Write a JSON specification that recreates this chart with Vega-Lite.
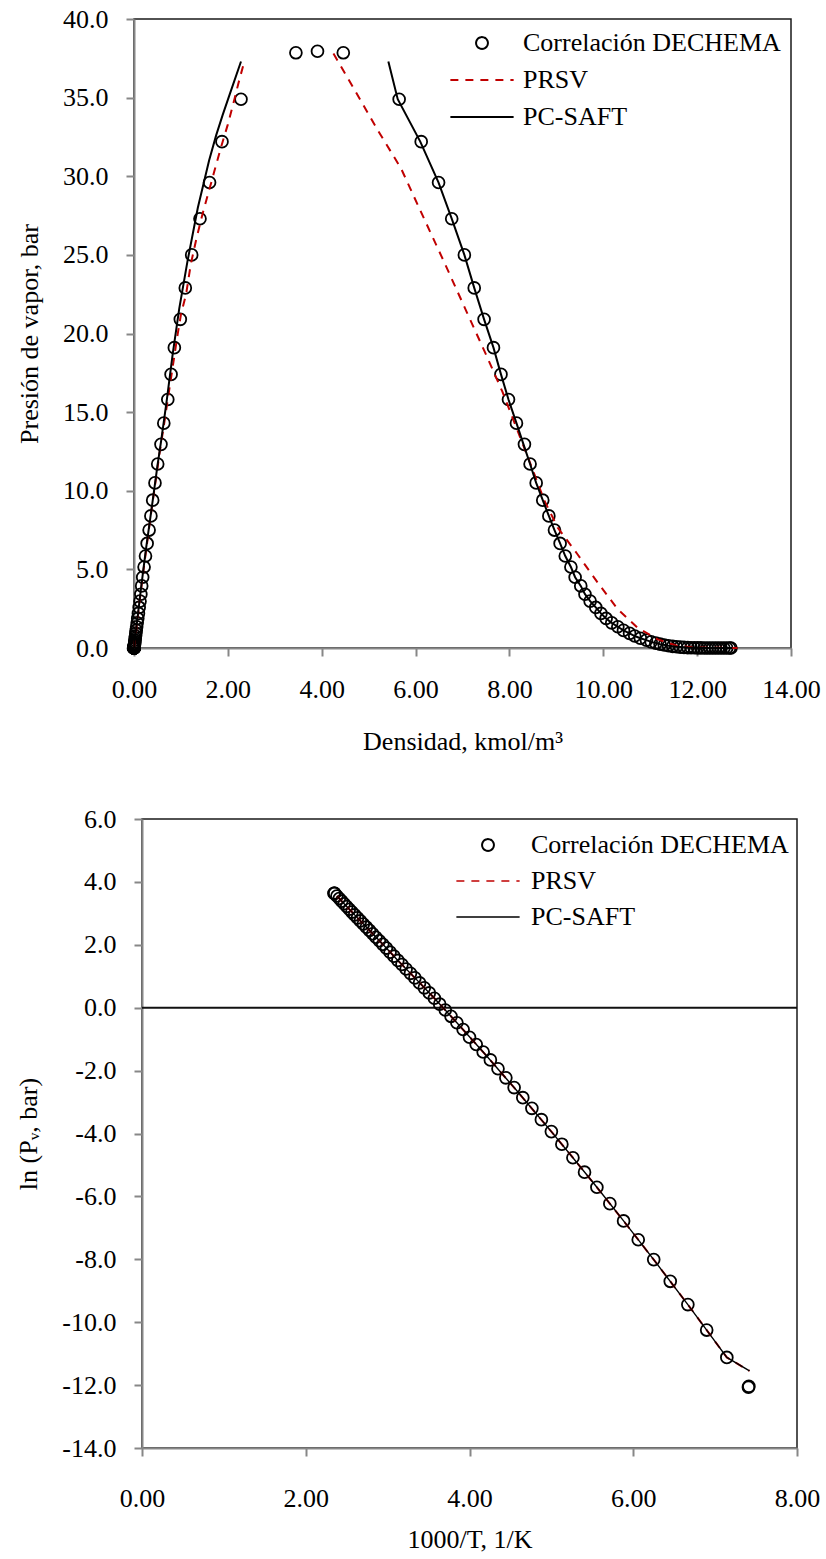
{
"$schema":"https://vega.github.io/schema/vega-lite/v6.json",
"background":"white",
"padding":{"left":8,"top":5,"right":4,"bottom":0},
"config":{
 "font":"Liberation Serif",
 "view":{"stroke":"#1a1a1a","strokeWidth":1.5},
 "axis":{"domainColor":"#878787","domainWidth":2,"tickColor":"#878787","tickWidth":2,"tickSize":8,"labelFont":"Liberation Serif","labelFontSize":26,"labelColor":"black","titleFont":"Liberation Serif","titleFontSize":26,"titleFontWeight":"normal","titleColor":"black","grid":false,"labelPadding":18,"labelFlush":false,"labelOverlap":false},
 "legend":{"labelFont":"Liberation Serif","labelFontSize":26,"labelColor":"black","labelLimit":500}
},
"columns":1,
"align":"none",
"spacing":50,
"resolve":{"scale":{"color":"independent"},"legend":{"color":"independent"}},
"concat":[
{"resolve":{"scale":{"color":"independent"},"legend":{"color":"independent"}},
 "spacing":0,
 "hconcat":[
{"width":1,"height":1,"view":{"stroke":null},"data":{"values":[{"k":1}]},"mark":{"type":"point","opacity":0}},
{
 "width":657,"height":629,
 "data":{"values":[
  {"s":"D","r":3.45,"p":37.85},{"s":"D","r":3.91,"p":37.95},{"s":"D","r":4.46,"p":37.85},
  {"s":"D","r":2.28,"p":34.9},{"s":"D","r":1.875,"p":32.2},{"s":"D","r":1.61,"p":29.6},{"s":"D","r":1.406,"p":27.3},{"s":"D","r":1.229,"p":25.0},{"s":"D","r":1.093,"p":22.9},{"s":"D","r":0.987,"p":20.9},{"s":"D","r":0.86,"p":19.1},{"s":"D","r":0.79,"p":17.4},{"s":"D","r":0.72,"p":15.8},{"s":"D","r":0.635,"p":14.3},{"s":"D","r":0.575,"p":12.95},{"s":"D","r":0.505,"p":11.7},{"s":"D","r":0.447,"p":10.5},{"s":"D","r":0.398,"p":9.4},{"s":"D","r":0.36,"p":8.4},{"s":"D","r":0.322,"p":7.5},{"s":"D","r":0.28,"p":6.65},{"s":"D","r":0.245,"p":5.85},{"s":"D","r":0.215,"p":5.15},{"s":"D","r":0.185,"p":4.5},{"s":"D","r":0.164,"p":3.95},{"s":"D","r":0.146,"p":3.42},{"s":"D","r":0.128,"p":2.98},{"s":"D","r":0.11,"p":2.58},{"s":"D","r":0.094,"p":2.2},{"s":"D","r":0.08,"p":1.88},{"s":"D","r":0.068,"p":1.6},{"s":"D","r":0.057,"p":1.35},{"s":"D","r":0.047,"p":1.12},{"s":"D","r":0.039,"p":0.93},{"s":"D","r":0.032,"p":0.76},{"s":"D","r":0.026,"p":0.62},{"s":"D","r":0.021,"p":0.5},{"s":"D","r":0.017,"p":0.39},{"s":"D","r":0.013,"p":0.31},{"s":"D","r":0.01,"p":0.245},{"s":"D","r":0.008,"p":0.19},{"s":"D","r":0.006,"p":0.143},{"s":"D","r":0.0045,"p":0.107},{"s":"D","r":0.0033,"p":0.079},{"s":"D","r":0.0024,"p":0.057},{"s":"D","r":0.0017,"p":0.041},{"s":"D","r":0.0012,"p":0.028},{"s":"D","r":0.0008,"p":0.019},{"s":"D","r":0.0005,"p":0.013},{"s":"D","r":0.0003,"p":0.0085},{"s":"D","r":0.0002,"p":0.0054},{"s":"D","r":0.0001,"p":0.0033},{"s":"D","r":0.0001,"p":0.002},{"s":"D","r":0.0,"p":0.0011},{"s":"D","r":0.0,"p":0.0006},{"s":"D","r":0.0,"p":0.0003},{"s":"D","r":0.0,"p":0.0002},{"s":"D","r":0.0,"p":0.0001},{"s":"D","r":0.0,"p":0.0},
  {"s":"D","r":5.65,"p":34.9},{"s":"D","r":6.12,"p":32.2},{"s":"D","r":6.49,"p":29.6},{"s":"D","r":6.77,"p":27.3},{"s":"D","r":7.04,"p":25.0},{"s":"D","r":7.25,"p":22.9},{"s":"D","r":7.46,"p":20.9},{"s":"D","r":7.66,"p":19.1},{"s":"D","r":7.82,"p":17.4},{"s":"D","r":7.98,"p":15.8},{"s":"D","r":8.15,"p":14.3},{"s":"D","r":8.32,"p":12.95},{"s":"D","r":8.44,"p":11.7},{"s":"D","r":8.57,"p":10.5},{"s":"D","r":8.71,"p":9.4},{"s":"D","r":8.84,"p":8.4},{"s":"D","r":8.96,"p":7.5},{"s":"D","r":9.08,"p":6.65},{"s":"D","r":9.19,"p":5.85},{"s":"D","r":9.31,"p":5.15},{"s":"D","r":9.4,"p":4.5},{"s":"D","r":9.52,"p":3.95},{"s":"D","r":9.61,"p":3.42},{"s":"D","r":9.72,"p":2.98},{"s":"D","r":9.84,"p":2.58},{"s":"D","r":9.95,"p":2.2},{"s":"D","r":10.06,"p":1.88},{"s":"D","r":10.18,"p":1.6},{"s":"D","r":10.31,"p":1.35},{"s":"D","r":10.43,"p":1.12},{"s":"D","r":10.56,"p":0.93},{"s":"D","r":10.67,"p":0.76},{"s":"D","r":10.79,"p":0.62},{"s":"D","r":10.92,"p":0.5},{"s":"D","r":11.02,"p":0.39},{"s":"D","r":11.12,"p":0.31},{"s":"D","r":11.21,"p":0.245},{"s":"D","r":11.3,"p":0.19},{"s":"D","r":11.39,"p":0.143},{"s":"D","r":11.48,"p":0.107},{"s":"D","r":11.56,"p":0.079},{"s":"D","r":11.64,"p":0.057},{"s":"D","r":11.72,"p":0.041},{"s":"D","r":11.8,"p":0.028},{"s":"D","r":11.87,"p":0.019},{"s":"D","r":11.94,"p":0.013},{"s":"D","r":12.01,"p":0.0085},{"s":"D","r":12.08,"p":0.0054},{"s":"D","r":12.15,"p":0.0033},{"s":"D","r":12.21,"p":0.002},{"s":"D","r":12.27,"p":0.0011},{"s":"D","r":12.33,"p":0.0006},{"s":"D","r":12.39,"p":0.0003},{"s":"D","r":12.45,"p":0.0002},{"s":"D","r":12.51,"p":0.0001},{"s":"D","r":12.57,"p":0.0},{"s":"D","r":12.63,"p":0.0},{"s":"D","r":12.69,"p":0.0},{"s":"D","r":12.72,"p":0.0},
  {"s":"PRSV","b":"v","r":0.0,"p":0.0},{"s":"PRSV","b":"v","r":0.05,"p":1.2},{"s":"PRSV","b":"v","r":0.1,"p":2.5},{"s":"PRSV","b":"v","r":0.15,"p":3.7},{"s":"PRSV","b":"v","r":0.2,"p":4.9},{"s":"PRSV","b":"v","r":0.28,"p":6.7},{"s":"PRSV","b":"v","r":0.36,"p":8.5},{"s":"PRSV","b":"v","r":0.45,"p":10.4},{"s":"PRSV","b":"v","r":0.55,"p":12.5},{"s":"PRSV","b":"v","r":0.66,"p":14.6},{"s":"PRSV","b":"v","r":0.78,"p":17.0},{"s":"PRSV","b":"v","r":0.93,"p":19.95},{"s":"PRSV","b":"v","r":1.0,"p":21.2},{"s":"PRSV","b":"v","r":1.11,"p":22.5},{"s":"PRSV","b":"v","r":1.21,"p":24.4},{"s":"PRSV","b":"v","r":1.32,"p":25.9},{"s":"PRSV","b":"v","r":1.46,"p":27.6},{"s":"PRSV","b":"v","r":1.6,"p":29.1},{"s":"PRSV","b":"v","r":1.71,"p":30.3},{"s":"PRSV","b":"v","r":1.85,"p":31.8},{"s":"PRSV","b":"v","r":2.0,"p":33.3},{"s":"PRSV","b":"v","r":2.14,"p":34.9},{"s":"PRSV","b":"v","r":2.22,"p":35.85},{"s":"PRSV","b":"v","r":2.35,"p":37.3},
  {"s":"PRSV","b":"l","r":4.25,"p":37.8},{"s":"PRSV","b":"l","r":4.7,"p":35.5},{"s":"PRSV","b":"l","r":5.2,"p":32.9},{"s":"PRSV","b":"l","r":5.69,"p":30.5},{"s":"PRSV","b":"l","r":6.12,"p":27.7},{"s":"PRSV","b":"l","r":6.6,"p":24.6},{"s":"PRSV","b":"l","r":7.1,"p":21.3},{"s":"PRSV","b":"l","r":7.54,"p":18.4},{"s":"PRSV","b":"l","r":7.85,"p":16.3},{"s":"PRSV","b":"l","r":8.15,"p":14.0},{"s":"PRSV","b":"l","r":8.45,"p":11.7},{"s":"PRSV","b":"l","r":8.74,"p":9.4},{"s":"PRSV","b":"l","r":9.03,"p":7.65},{"s":"PRSV","b":"l","r":9.45,"p":5.96},{"s":"PRSV","b":"l","r":9.88,"p":4.16},{"s":"PRSV","b":"l","r":10.31,"p":2.46},{"s":"PRSV","b":"l","r":10.73,"p":1.29},{"s":"PRSV","b":"l","r":11.16,"p":0.55},{"s":"PRSV","b":"l","r":11.58,"p":0.13},{"s":"PRSV","b":"l","r":12.0,"p":0.03},{"s":"PRSV","b":"l","r":12.86,"p":0.0},
  {"s":"PC-SAFT","b":"v","r":0.0,"p":0.0},{"s":"PC-SAFT","b":"v","r":0.03,"p":0.8},{"s":"PC-SAFT","b":"v","r":0.07,"p":1.8},{"s":"PC-SAFT","b":"v","r":0.11,"p":2.8},{"s":"PC-SAFT","b":"v","r":0.15,"p":3.8},{"s":"PC-SAFT","b":"v","r":0.2,"p":5.0},{"s":"PC-SAFT","b":"v","r":0.26,"p":6.4},{"s":"PC-SAFT","b":"v","r":0.33,"p":7.9},{"s":"PC-SAFT","b":"v","r":0.4,"p":9.4},{"s":"PC-SAFT","b":"v","r":0.5,"p":11.6},{"s":"PC-SAFT","b":"v","r":0.58,"p":13.2},{"s":"PC-SAFT","b":"v","r":0.7,"p":15.8},{"s":"PC-SAFT","b":"v","r":0.825,"p":18.7},{"s":"PC-SAFT","b":"v","r":0.965,"p":21.6},{"s":"PC-SAFT","b":"v","r":1.14,"p":24.6},{"s":"PC-SAFT","b":"v","r":1.36,"p":28.0},{"s":"PC-SAFT","b":"v","r":1.6,"p":31.0},{"s":"PC-SAFT","b":"v","r":1.75,"p":32.6},{"s":"PC-SAFT","b":"v","r":1.89,"p":33.9},{"s":"PC-SAFT","b":"v","r":2.05,"p":35.3},{"s":"PC-SAFT","b":"v","r":2.28,"p":37.3},
  {"s":"PC-SAFT","b":"l","r":5.42,"p":37.3},{"s":"PC-SAFT","b":"l","r":5.62,"p":34.9},{"s":"PC-SAFT","b":"l","r":6.1,"p":32.2},{"s":"PC-SAFT","b":"l","r":6.49,"p":29.6},{"s":"PC-SAFT","b":"l","r":6.77,"p":27.3},{"s":"PC-SAFT","b":"l","r":7.04,"p":25.0},{"s":"PC-SAFT","b":"l","r":7.25,"p":22.9},{"s":"PC-SAFT","b":"l","r":7.46,"p":20.9},{"s":"PC-SAFT","b":"l","r":7.66,"p":19.1},{"s":"PC-SAFT","b":"l","r":7.82,"p":17.4},{"s":"PC-SAFT","b":"l","r":7.98,"p":15.8},{"s":"PC-SAFT","b":"l","r":8.15,"p":14.3},{"s":"PC-SAFT","b":"l","r":8.3,"p":12.95},{"s":"PC-SAFT","b":"l","r":8.44,"p":11.7},{"s":"PC-SAFT","b":"l","r":8.57,"p":10.5},{"s":"PC-SAFT","b":"l","r":8.71,"p":9.4},{"s":"PC-SAFT","b":"l","r":8.84,"p":8.4},{"s":"PC-SAFT","b":"l","r":8.96,"p":7.5},{"s":"PC-SAFT","b":"l","r":9.08,"p":6.65},{"s":"PC-SAFT","b":"l","r":9.19,"p":5.85},{"s":"PC-SAFT","b":"l","r":9.31,"p":5.15},{"s":"PC-SAFT","b":"l","r":9.4,"p":4.5},{"s":"PC-SAFT","b":"l","r":9.52,"p":3.95},{"s":"PC-SAFT","b":"l","r":9.61,"p":3.42},{"s":"PC-SAFT","b":"l","r":9.72,"p":2.98},{"s":"PC-SAFT","b":"l","r":9.84,"p":2.58},{"s":"PC-SAFT","b":"l","r":9.95,"p":2.2},{"s":"PC-SAFT","b":"l","r":10.06,"p":1.88},{"s":"PC-SAFT","b":"l","r":10.18,"p":1.6},{"s":"PC-SAFT","b":"l","r":10.31,"p":1.35},{"s":"PC-SAFT","b":"l","r":10.43,"p":1.12},{"s":"PC-SAFT","b":"l","r":10.56,"p":0.93},{"s":"PC-SAFT","b":"l","r":10.67,"p":0.76},{"s":"PC-SAFT","b":"l","r":10.79,"p":0.62},{"s":"PC-SAFT","b":"l","r":10.92,"p":0.5},{"s":"PC-SAFT","b":"l","r":11.02,"p":0.39},{"s":"PC-SAFT","b":"l","r":11.21,"p":0.245},{"s":"PC-SAFT","b":"l","r":11.39,"p":0.143},{"s":"PC-SAFT","b":"l","r":11.56,"p":0.079},{"s":"PC-SAFT","b":"l","r":11.8,"p":0.028},{"s":"PC-SAFT","b":"l","r":12.08,"p":0.0054},{"s":"PC-SAFT","b":"l","r":12.39,"p":0.0003},{"s":"PC-SAFT","b":"l","r":12.75,"p":0.0}
 ]},
 "encoding":{
  "x":{"field":"r","type":"quantitative","scale":{"domain":[0,14],"nice":false,"zero":false},"axis":{"values":[0,2,4,6,8,10,12,14],"format":".2f","title":"Densidad, kmol/m³","titlePadding":26,"labelPadding":20}},
  "y":{"field":"p","type":"quantitative","scale":{"domain":[0,40],"nice":false},"axis":{"values":[0,5,10,15,20,25,30,35,40],"format":".1f","title":"Presión de vapor, bar","titlePadding":20}}
 },
 "layer":[
  {"transform":[{"filter":"datum.s === 'D'"}],"mark":{"type":"point","filled":false,"size":140,"strokeWidth":1.8,"opacity":1},
   "encoding":{"color":{"field":"s","type":"nominal","scale":{"domain":["D","PRSV","PC-SAFT"],"range":["#000000","#C00000","#000000"]},
     "legend":{"title":null,"orient":"none","legendX":335,"legendY":11,"padding":0,"labelExpr":"datum.label === 'D' ? 'Correlación DECHEMA' : datum.label","symbolOffset":0,"labelOffset":28,"rowPadding":11,"symbolStrokeWidth":2,"symbolSize":140,
      "encode":{"symbols":{"update":{"shape":{"signal":"datum.value === 'D' ? 'circle' : 'stroke'"},"size":{"signal":"datum.value === 'D' ? 140 : 4000"},"strokeDash":{"signal":"datum.value === 'PRSV' ? [8,7] : [1,0]"},"strokeWidth":{"signal":"datum.value === 'D' ? 2 : 2"},"fill":{"value":"transparent"}}}}}}}},
  {"transform":[{"filter":"datum.s === 'PRSV'"}],"mark":{"type":"line","strokeWidth":2,"strokeDash":[8,7]},
   "encoding":{"detail":{"field":"b","type":"nominal"},"color":{"field":"s","type":"nominal","scale":{"domain":["D","PRSV","PC-SAFT"],"range":["#000000","#C00000","#000000"]},
     "legend":{"title":null,"orient":"none","legendX":335,"legendY":11,"padding":0,"labelExpr":"datum.label === 'D' ? 'Correlación DECHEMA' : datum.label","symbolOffset":0,"labelOffset":28,"rowPadding":11,"symbolStrokeWidth":2,"symbolSize":140,
      "encode":{"symbols":{"update":{"shape":{"signal":"datum.value === 'D' ? 'circle' : 'stroke'"},"size":{"signal":"datum.value === 'D' ? 140 : 4000"},"strokeDash":{"signal":"datum.value === 'PRSV' ? [8,7] : [1,0]"},"strokeWidth":{"signal":"datum.value === 'D' ? 2 : 2"},"fill":{"value":"transparent"}}}}}}}},
  {"transform":[{"filter":"datum.s === 'PC-SAFT'"}],"mark":{"type":"line","strokeWidth":2},
   "encoding":{"detail":{"field":"b","type":"nominal"},"color":{"field":"s","type":"nominal","scale":{"domain":["D","PRSV","PC-SAFT"],"range":["#000000","#C00000","#000000"]},
     "legend":{"title":null,"orient":"none","legendX":335,"legendY":11,"padding":0,"labelExpr":"datum.label === 'D' ? 'Correlación DECHEMA' : datum.label","symbolOffset":0,"labelOffset":28,"rowPadding":11,"symbolStrokeWidth":2,"symbolSize":140,
      "encode":{"symbols":{"update":{"shape":{"signal":"datum.value === 'D' ? 'circle' : 'stroke'"},"size":{"signal":"datum.value === 'D' ? 140 : 4000"},"strokeDash":{"signal":"datum.value === 'PRSV' ? [8,7] : [1,0]"},"strokeWidth":{"signal":"datum.value === 'D' ? 2 : 2"},"fill":{"value":"transparent"}}}}}}}}
 ]
}]},
{"resolve":{"scale":{"color":"independent"},"legend":{"color":"independent"}},
 "spacing":0,
 "hconcat":[
{"width":1,"height":1,"view":{"stroke":null},"data":{"values":[{"k":1}]},"mark":{"type":"point","opacity":0}},
{
 "width":655,"height":629,
 "data":{"values":[
  {"s":"D","x":2.345,"y":3.64},{"s":"D","x":2.349,"y":3.64},{"s":"D","x":2.353,"y":3.635},{"s":"D","x":2.381,"y":3.553},{"s":"D","x":2.41,"y":3.472},{"s":"D","x":2.439,"y":3.388},{"s":"D","x":2.469,"y":3.307},{"s":"D","x":2.5,"y":3.219},{"s":"D","x":2.532,"y":3.131},{"s":"D","x":2.564,"y":3.04},{"s":"D","x":2.597,"y":2.95},{"s":"D","x":2.632,"y":2.856},{"s":"D","x":2.667,"y":2.76},{"s":"D","x":2.703,"y":2.66},{"s":"D","x":2.74,"y":2.561},{"s":"D","x":2.778,"y":2.46},{"s":"D","x":2.817,"y":2.351},{"s":"D","x":2.857,"y":2.241},{"s":"D","x":2.899,"y":2.128},{"s":"D","x":2.941,"y":2.015},{"s":"D","x":2.985,"y":1.895},{"s":"D","x":3.03,"y":1.766},{"s":"D","x":3.077,"y":1.639},{"s":"D","x":3.125,"y":1.504},{"s":"D","x":3.175,"y":1.374},{"s":"D","x":3.226,"y":1.23},{"s":"D","x":3.279,"y":1.092},{"s":"D","x":3.333,"y":0.948},{"s":"D","x":3.39,"y":0.788},{"s":"D","x":3.448,"y":0.631},{"s":"D","x":3.509,"y":0.47},{"s":"D","x":3.571,"y":0.3},{"s":"D","x":3.636,"y":0.113},{"s":"D","x":3.704,"y":-0.073},{"s":"D","x":3.774,"y":-0.274},{"s":"D","x":3.846,"y":-0.478},{"s":"D","x":3.922,"y":-0.693},{"s":"D","x":4.0,"y":-0.94},{"s":"D","x":4.082,"y":-1.17},{"s":"D","x":4.167,"y":-1.41},{"s":"D","x":4.255,"y":-1.66},{"s":"D","x":4.348,"y":-1.94},{"s":"D","x":4.444,"y":-2.23},{"s":"D","x":4.545,"y":-2.54},{"s":"D","x":4.651,"y":-2.86},{"s":"D","x":4.762,"y":-3.2},{"s":"D","x":4.878,"y":-3.56},{"s":"D","x":5.0,"y":-3.94},{"s":"D","x":5.128,"y":-4.34},{"s":"D","x":5.263,"y":-4.77},{"s":"D","x":5.405,"y":-5.23},{"s":"D","x":5.556,"y":-5.71},{"s":"D","x":5.714,"y":-6.23},{"s":"D","x":5.882,"y":-6.78},{"s":"D","x":6.061,"y":-7.38},{"s":"D","x":6.25,"y":-8.01},{"s":"D","x":6.452,"y":-8.7},{"s":"D","x":6.667,"y":-9.44},{"s":"D","x":6.897,"y":-10.25},{"s":"D","x":7.143,"y":-11.12},{"s":"D","x":7.407,"y":-12.07},{"s":"D","x":7.412,"y":-12.04},
  {"s":"PRSV","x":2.381,"y":3.553},{"s":"PRSV","x":2.5,"y":3.219},{"s":"PRSV","x":2.632,"y":2.856},{"s":"PRSV","x":2.778,"y":2.46},{"s":"PRSV","x":2.941,"y":2.015},{"s":"PRSV","x":3.125,"y":1.504},{"s":"PRSV","x":3.333,"y":0.948},{"s":"PRSV","x":3.571,"y":0.3},{"s":"PRSV","x":3.846,"y":-0.478},{"s":"PRSV","x":4.167,"y":-1.41},{"s":"PRSV","x":4.545,"y":-2.54},{"s":"PRSV","x":5.0,"y":-3.94},{"s":"PRSV","x":5.263,"y":-4.77},{"s":"PRSV","x":5.556,"y":-5.71},{"s":"PRSV","x":5.882,"y":-6.78},{"s":"PRSV","x":6.25,"y":-8.01},{"s":"PRSV","x":6.667,"y":-9.44},{"s":"PRSV","x":6.897,"y":-10.25},{"s":"PRSV","x":7.143,"y":-11.12},{"s":"PRSV","x":7.42,"y":-11.55},
  {"s":"PC-SAFT","x":2.381,"y":3.553},{"s":"PC-SAFT","x":2.5,"y":3.219},{"s":"PC-SAFT","x":2.632,"y":2.856},{"s":"PC-SAFT","x":2.778,"y":2.46},{"s":"PC-SAFT","x":2.941,"y":2.015},{"s":"PC-SAFT","x":3.125,"y":1.504},{"s":"PC-SAFT","x":3.333,"y":0.948},{"s":"PC-SAFT","x":3.571,"y":0.3},{"s":"PC-SAFT","x":3.846,"y":-0.478},{"s":"PC-SAFT","x":4.167,"y":-1.41},{"s":"PC-SAFT","x":4.545,"y":-2.54},{"s":"PC-SAFT","x":5.0,"y":-3.94},{"s":"PC-SAFT","x":5.263,"y":-4.77},{"s":"PC-SAFT","x":5.556,"y":-5.71},{"s":"PC-SAFT","x":5.882,"y":-6.78},{"s":"PC-SAFT","x":6.25,"y":-8.01},{"s":"PC-SAFT","x":6.667,"y":-9.44},{"s":"PC-SAFT","x":6.897,"y":-10.25},{"s":"PC-SAFT","x":7.143,"y":-11.12},{"s":"PC-SAFT","x":7.42,"y":-11.55}
 ]},
 "encoding":{
  "y":{"field":"y","type":"quantitative","scale":{"domain":[-14,6],"nice":false,"zero":false},"axis":{"values":[-14,-12,-10,-8,-6,-4,-2,0,2,4,6],"labelExpr":"replace(format(datum.value, '.1f'), '\u2212', '-')","title":"ln (P\u1d65, bar)","titlePadding":20}}
 },
 "layer":[
  {"data":{"values":[{"y":0}]},"mark":{"type":"rule","color":"#111111","strokeWidth":2}},
  {"transform":[{"filter":"datum.s === 'D'"}],"mark":{"type":"point","filled":false,"size":140,"strokeWidth":1.8,"opacity":1},
   "encoding":{
    "x":{"field":"x","type":"quantitative","scale":{"domain":[0,8],"nice":false,"zero":false},"axis":{"values":[0,2,4,6,8],"format":".2f","title":"1000/T, 1/K","titlePadding":15,"labelPadding":29}},
    "color":{"field":"s","type":"nominal","scale":{"domain":["D","PRSV","PC-SAFT"],"range":["#000000","#C00000","#000000"]},
     "legend":{"title":null,"orient":"none","legendX":333,"legendY":13,"padding":0,"labelExpr":"datum.label === 'D' ? 'Correlación DECHEMA' : datum.label","symbolOffset":0,"labelOffset":30,"rowPadding":10,"symbolStrokeWidth":2,"symbolSize":140,
      "encode":{"symbols":{"update":{"shape":{"signal":"datum.value === 'D' ? 'circle' : 'stroke'"},"size":{"signal":"datum.value === 'D' ? 140 : 4000"},"strokeDash":{"signal":"datum.value === 'PRSV' ? [8,7] : [1,0]"},"strokeWidth":{"signal":"datum.value === 'D' ? 2 : 1.5"},"fill":{"value":"transparent"}}}}}}
   }},
  {"transform":[{"filter":"datum.s === 'PRSV'"}],"mark":{"type":"line","strokeWidth":2,"strokeDash":[8,7]},
   "encoding":{
    "x":{"field":"x","type":"quantitative","scale":{"domain":[0,8],"nice":false,"zero":false},"axis":{"values":[0,2,4,6,8],"format":".2f","title":"1000/T, 1/K","titlePadding":15,"labelPadding":29}},
    "color":{"field":"s","type":"nominal","scale":{"domain":["D","PRSV","PC-SAFT"],"range":["#000000","#C00000","#000000"]},
     "legend":{"title":null,"orient":"none","legendX":333,"legendY":13,"padding":0,"labelExpr":"datum.label === 'D' ? 'Correlación DECHEMA' : datum.label","symbolOffset":0,"labelOffset":30,"rowPadding":10,"symbolStrokeWidth":2,"symbolSize":140,
      "encode":{"symbols":{"update":{"shape":{"signal":"datum.value === 'D' ? 'circle' : 'stroke'"},"size":{"signal":"datum.value === 'D' ? 140 : 4000"},"strokeDash":{"signal":"datum.value === 'PRSV' ? [8,7] : [1,0]"},"strokeWidth":{"signal":"datum.value === 'D' ? 2 : 1.5"},"fill":{"value":"transparent"}}}}}}
   }},
  {"transform":[{"filter":"datum.s === 'PC-SAFT'"}],"mark":{"type":"line","strokeWidth":1.4},
   "encoding":{
    "x":{"field":"x","type":"quantitative","scale":{"domain":[0,8],"nice":false,"zero":false},"axis":{"values":[0,2,4,6,8],"format":".2f","title":"1000/T, 1/K","titlePadding":15,"labelPadding":29}},
    "color":{"field":"s","type":"nominal","scale":{"domain":["D","PRSV","PC-SAFT"],"range":["#000000","#C00000","#000000"]},
     "legend":{"title":null,"orient":"none","legendX":333,"legendY":13,"padding":0,"labelExpr":"datum.label === 'D' ? 'Correlación DECHEMA' : datum.label","symbolOffset":0,"labelOffset":30,"rowPadding":10,"symbolStrokeWidth":2,"symbolSize":140,
      "encode":{"symbols":{"update":{"shape":{"signal":"datum.value === 'D' ? 'circle' : 'stroke'"},"size":{"signal":"datum.value === 'D' ? 140 : 4000"},"strokeDash":{"signal":"datum.value === 'PRSV' ? [8,7] : [1,0]"},"strokeWidth":{"signal":"datum.value === 'D' ? 2 : 1.5"},"fill":{"value":"transparent"}}}}}}
   }}
 ]
}]}
]
}
